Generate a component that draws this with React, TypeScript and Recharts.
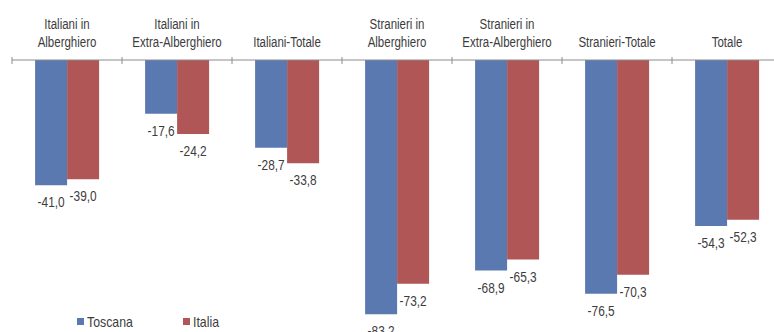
import { BarChart, Bar, XAxis, YAxis, Legend, LabelList } from "recharts"

const categories = [
  ["Italiani in", "Alberghiero"],
  ["Italiani in", "Extra-Alberghiero"],
  ["Italiani-Totale"],
  ["Stranieri in", "Alberghiero"],
  ["Stranieri in", "Extra-Alberghiero"],
  ["Stranieri-Totale"],
  ["Totale"],
]
const seriesNames = ["Toscana", "Italia"]
const toscana = [-41.0, -17.6, -28.7, -83.2, -68.9, -76.5, -54.3]
const italia = [-39.0, -24.2, -33.8, -73.2, -65.3, -70.3, -52.3]

const data = categories.map((lines, i) => ({
  name: lines.join("\n"),
  Toscana: toscana[i],
  Italia: italia[i],
}))

const BLUE = "#5a79b0"
const RED = "#b05656"
const TEXT = "#3c3c3c"
const FONT = "'Liberation Sans', Arial, sans-serif"
// Arial Narrow look: regular Arial squeezed horizontally
const NARROW = 0.82

// category label above the axis, bottom-aligned, with a boundary tick on the left
function CategoryTick(props: any) {
  const { x, y, payload, index, visibleTicksCount } = props
  const lines = String(payload.value).split("\n")
  const half = payload.offset || 0
  const last = index === visibleTicksCount - 1
  return (
    <g>
      <line x1={x - half} x2={x - half} y1={y - 3} y2={y + 4} stroke="#8c8c8c" />
      {last && <line x1={x + half} x2={x + half} y1={y - 3} y2={y + 4} stroke="#8c8c8c" />}
      <g transform={`translate(${x},0) scale(${NARROW},1)`}>
        <text textAnchor="middle" fill={TEXT} fontSize={14} fontFamily={FONT}>
          {lines.map((l, i) => (
            <tspan key={i} x={0} y={y - 13 - (lines.length - 1 - i) * 18}>
              {l}
            </tspan>
          ))}
        </text>
      </g>
    </g>
  )
}

function ValueLabel(props: any) {
  const { x, y, width, height, value } = props
  const bottom = Math.max(y, y + height)
  return (
    <g transform={`translate(${x + width / 2},0) scale(${NARROW},1)`}>
      <text x={0} y={bottom + 22} textAnchor="middle" fill={TEXT} fontSize={14.5} fontFamily={FONT}>
        {Number(value).toFixed(1).replace(".", ",")}
      </text>
    </g>
  )
}

function LegendBox(props: any) {
  const items = [...(props.payload || [])].sort(
    (a: any, b: any) => seriesNames.indexOf(a.value) - seriesNames.indexOf(b.value)
  )
  return (
    <div style={{ display: "flex", fontFamily: FONT, fontSize: 15, color: TEXT }}>
      {items.map((it: any) => (
        <div key={it.value} style={{ width: 106, display: "flex", alignItems: "center" }}>
          <span style={{ width: 7, height: 7, background: it.color, marginRight: 3, flexShrink: 0 }} />
          <span style={{ display: "inline-block", transform: `scaleX(${NARROW})`, transformOrigin: "left center" }}>
            {it.value}
          </span>
        </div>
      ))}
    </div>
  )
}

export default function App() {
  return (
    <div
      style={{
        position: "absolute",
        left: 0,
        top: 0,
        width: 774,
        height: 332,
        overflow: "hidden",
        background: "#fff",
      }}
    >
      <BarChart
        width={800}
        height={345}
        data={data}
        margin={{ top: 20, right: 18, left: 12, bottom: 10 }}
        barCategoryGap="21%"
        barGap={0}
      >
        <XAxis
          dataKey="name"
          orientation="top"
          height={40}
          tickSize={0}
          tickMargin={0}
          tickLine={false}
          axisLine={{ stroke: "#8c8c8c" }}
          tick={<CategoryTick />}
          interval={0}
        />
        <YAxis hide domain={[-90, 0]} />
        <Legend
          layout="horizontal"
          align="center"
          verticalAlign="middle"
          content={<LegendBox />}
          wrapperStyle={{ left: 77, top: 313, width: 260 }}
        />
        <Bar dataKey="Toscana" fill={BLUE} isAnimationActive={false}>
          <LabelList dataKey="Toscana" content={<ValueLabel />} />
        </Bar>
        <Bar dataKey="Italia" fill={RED} isAnimationActive={false}>
          <LabelList dataKey="Italia" content={<ValueLabel />} />
        </Bar>
      </BarChart>
    </div>
  )
}
